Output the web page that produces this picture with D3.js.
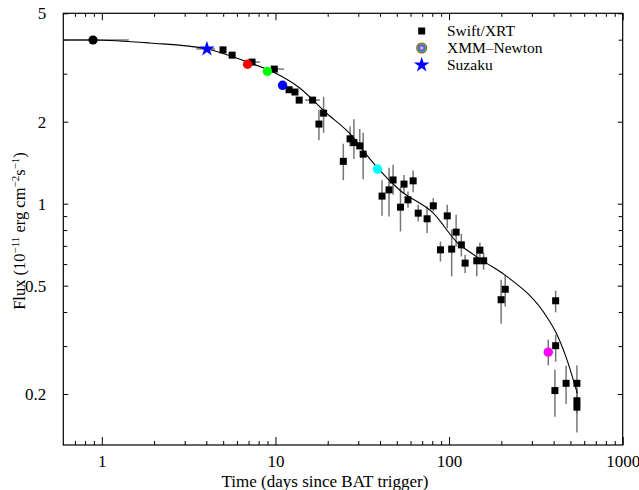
<!DOCTYPE html>
<html>
<head>
<meta charset="utf-8">
<script src="https://cdn.jsdelivr.net/npm/d3@7/dist/d3.min.js"></script>
<style>
  html, body { margin: 0; padding: 0; background: #fff; }
  svg { display: block; }
  text { font-family: "Liberation Serif", "Times New Roman", serif; }
</style>
</head>
<body>
<svg id="chart" width="639" height="490"></svg>
<script>
// ---------------- data ----------------
// Swift/XRT: time (days), flux, lower, upper
const swiftT  = [4.99, 5.63, 7.33, 9.85, 11.98, 12.96, 13.7, 16.37, 18.94, 17.8, 26.9, 28.3, 30.6, 32.0, 24.6,
                 41.1, 45.1, 47.6, 52.5, 55.0, 58.0, 62.1, 66.4, 74.7, 81.1, 97.6, 89.2, 103.5, 109.8, 117.7, 123.7,
                 144.4, 150.5, 158.2, 199.4, 210.6, 411, 411, 407, 472, 545, 545, 545];
const swiftF  = [3.67, 3.51, 3.31, 3.12, 2.62, 2.57, 2.40, 2.40, 2.15, 1.96, 1.73, 1.676, 1.63, 1.52, 1.43,
                 1.066, 1.124, 1.222, 0.971, 1.18, 1.033, 1.213, 0.923, 0.880, 0.982, 0.902, 0.677, 0.681, 0.786, 0.706, 0.605,
                 0.617, 0.675, 0.617, 0.444, 0.485, 0.44, 0.301, 0.206, 0.219, 0.219, 0.189, 0.179];
const swiftLo = [3.67, 3.51, 3.31, 3.12, 2.62, 2.57, 2.40, 2.40, 1.82, 1.71, 1.62, 1.46, 1.58, 1.23, 1.22,
                 0.902, 0.897, 1.078, 0.790, 1.093, 0.966, 1.102, 0.860, 0.780, 0.936, 0.813, 0.613, 0.541, 0.696, 0.640, 0.556,
                 0.541, 0.637, 0.572, 0.362, 0.419, 0.399, 0.263, 0.165, 0.184, 0.170, 0.170, 0.1445];
const swiftHi = [3.67, 3.51, 3.31, 3.12, 2.62, 2.57, 2.40, 2.40, 2.47, 2.21, 1.92, 2.04, 1.88, 1.82, 1.66,
                 1.22, 1.354, 1.389, 1.15, 1.275, 1.108, 1.323, 0.990, 0.976, 1.048, 0.99, 0.726, 0.802, 0.910, 0.775, 0.649,
                 0.688, 0.72, 0.660, 0.526, 0.548, 0.48, 0.330, 0.246, 0.254, 0.255, 0.204, 0.204];
// horizontal error bars on a few Swift points
const swiftXerrT  = [7.33, 9.85, 16.37];
const swiftXerrF  = [3.31, 3.12, 2.40];
const swiftXerrLo = [7.1, 9.0, 14.8];
const swiftXerrHi = [8.13, 11.2, 18.0];

// XMM-Newton
const xmmT  = [6.91, 8.99, 10.99, 38.7, 372.6];
const xmmF  = [3.25, 3.06, 2.72, 1.34, 0.285];
const xmmLo = [3.25, 3.06, 2.72, 1.34, 0.255];
const xmmHi = [3.25, 3.06, 2.72, 1.34, 0.317];
const xmmColors = ["#ff0000", "#00ff00", "#0000ff", "#00ffff", "#ff00ff"];

// Suzaku
const suzakuT = [4.03], suzakuF = [3.70], suzakuTLo = [3.5], suzakuTHi = [4.48];

// early point (black circle)
const earlyT = [0.89], earlyF = [3.99], earlyTLo = [0.6], earlyTHi = [1.43];

// model curve
const modelT = [0.6, 0.887, 1.89, 4.03, 6.84, 10.18, 13.8, 19.2, 27.9, 33.5, 38.8, 52.1, 81.1, 115, 126, 164, 209, 372, 414, 474, 547];
const modelF = [3.99, 3.99, 3.89, 3.70, 3.32, 3.0, 2.66, 2.18, 1.76, 1.51, 1.35, 1.12, 0.923, 0.706, 0.677, 0.605, 0.548, 0.377, 0.335, 0.271, 0.2017];

// axes
const xMajor = [1, 10, 100, 1000];
const xMinor = [0.7, 0.8, 0.9, 2, 3, 4, 5, 6, 7, 8, 9, 20, 30, 40, 50, 60, 70, 80, 90, 200, 300, 400, 500, 600, 700, 800, 900];
const yMajor = [0.2, 0.5, 1, 2, 5];
const yMinor = [0.3, 0.4, 0.6, 0.7, 0.8, 0.9, 3, 4];

const legendLabels = ["Swift/XRT", "XMM\u2013Newton", "Suzaku"];

// ---------------- drawing ----------------
const FONT = "Liberation Serif, Times New Roman, serif";
const svg = d3.select("#chart");
const L = 63.3, R = 622.7, T = 13.3, B = 445;
const x = d3.scaleLog().domain([0.6, 1000]).range([L, R]);
const y = d3.scaleLog().domain([0.13, 5]).range([B, T]);
const fmt = d => String(d);

function axisStyle(g) {
  g.attr("font-family", FONT);
  g.select(".domain").remove();
  g.selectAll("line").attr("stroke", "#000").attr("stroke-width", 1);
  g.selectAll("text").attr("font-size", 17).attr("fill", "#000").attr("font-family", FONT);
}

// bottom
svg.append("g").attr("transform", `translate(0,${B})`)
  .call(d3.axisBottom(x).tickValues(xMajor).tickFormat(fmt).tickSize(-8).tickPadding(10)).call(axisStyle);
svg.append("g").attr("transform", `translate(0,${B})`)
  .call(d3.axisBottom(x).tickValues(xMinor).tickFormat("").tickSize(-4)).call(axisStyle);
// top
svg.append("g").attr("transform", `translate(0,${T})`)
  .call(d3.axisTop(x).tickValues(xMajor).tickFormat("").tickSize(-7)).call(axisStyle);
svg.append("g").attr("transform", `translate(0,${T})`)
  .call(d3.axisTop(x).tickValues(xMinor).tickFormat("").tickSize(-3.5)).call(axisStyle);
// left
svg.append("g").attr("transform", `translate(${L},0)`)
  .call(d3.axisLeft(y).tickValues(yMajor).tickFormat(fmt).tickSize(-5).tickPadding(17)).call(axisStyle);
svg.append("g").attr("transform", `translate(${L},0)`)
  .call(d3.axisLeft(y).tickValues(yMinor).tickFormat("").tickSize(-4)).call(axisStyle);
// right
svg.append("g").attr("transform", `translate(${R},0)`)
  .call(d3.axisRight(y).tickValues(yMajor).tickFormat("").tickSize(-5)).call(axisStyle);
svg.append("g").attr("transform", `translate(${R},0)`)
  .call(d3.axisRight(y).tickValues(yMinor).tickFormat("").tickSize(-4)).call(axisStyle);

// frame
svg.append("rect").attr("x", L).attr("y", T).attr("width", R - L).attr("height", B - T)
  .attr("fill", "none").attr("stroke", "#000").attr("stroke-width", 1.2);

// titles
svg.append("text").attr("x", 325).attr("y", 487).attr("text-anchor", "middle")
  .attr("font-family", FONT).attr("font-size", 17).text("Time (days since BAT trigger)");
const yt = svg.append("text").attr("transform", "translate(25,231) rotate(-90)")
  .attr("text-anchor", "middle").attr("font-family", FONT).attr("font-size", 16.5);
yt.append("tspan").text("Flux (10");
yt.append("tspan").attr("font-size", 11).attr("dy", -6).text("\u221211");
yt.append("tspan").attr("dy", 6).text(" erg cm");
yt.append("tspan").attr("font-size", 11).attr("dy", -6).text("\u22122");
yt.append("tspan").attr("dy", 6).text("s");
yt.append("tspan").attr("font-size", 11).attr("dy", -6).text("\u22121");
yt.append("tspan").attr("dy", 6).text(")");

const plot = svg.append("g");
const errColor = "#777";

// Swift vertical error bars
plot.selectAll(".sv").data(swiftT.map((t, i) => i)).enter().append("line")
  .attr("x1", i => x(swiftT[i])).attr("x2", i => x(swiftT[i]))
  .attr("y1", i => y(swiftLo[i])).attr("y2", i => y(swiftHi[i]))
  .attr("stroke", errColor).attr("stroke-width", 1.5);
// Swift horizontal error bars
plot.selectAll(".sh").data(swiftXerrT.map((t, i) => i)).enter().append("line")
  .attr("x1", i => x(swiftXerrLo[i])).attr("x2", i => x(swiftXerrHi[i]))
  .attr("y1", i => y(swiftXerrF[i])).attr("y2", i => y(swiftXerrF[i]))
  .attr("stroke", errColor).attr("stroke-width", 1.5);
// XMM error bars
plot.selectAll(".xv").data(xmmT.map((t, i) => i)).enter().append("line")
  .attr("x1", i => x(xmmT[i])).attr("x2", i => x(xmmT[i]))
  .attr("y1", i => y(xmmLo[i])).attr("y2", i => y(xmmHi[i]))
  .attr("stroke", errColor).attr("stroke-width", 1.5);
// Suzaku + early horizontal bars
plot.selectAll(".zh").data(suzakuT.map((t, i) => i)).enter().append("line")
  .attr("x1", i => x(suzakuTLo[i])).attr("x2", i => x(suzakuTHi[i]))
  .attr("y1", i => y(suzakuF[i])).attr("y2", i => y(suzakuF[i]))
  .attr("stroke", errColor).attr("stroke-width", 1.5);
plot.selectAll(".eh").data(earlyT.map((t, i) => i)).enter().append("line")
  .attr("x1", i => x(earlyTLo[i])).attr("x2", i => x(earlyTHi[i]))
  .attr("y1", i => y(earlyF[i])).attr("y2", i => y(earlyF[i]))
  .attr("stroke", errColor).attr("stroke-width", 1.5);

// model line
const line = d3.line().x(d => x(d[0])).y(d => y(d[1])).curve(d3.curveMonotoneX);
plot.append("path").datum(modelT.map((t, i) => [t, modelF[i]]))
  .attr("d", line).attr("fill", "none").attr("stroke", "#000").attr("stroke-width", 1.1);

// Swift squares
const sq = 7;
plot.selectAll(".sq").data(swiftT.map((t, i) => i)).enter().append("rect")
  .attr("x", i => x(swiftT[i]) - sq / 2).attr("y", i => y(swiftF[i]) - sq / 2)
  .attr("width", sq).attr("height", sq).attr("fill", "#000");

// early black circle
plot.selectAll(".ec").data(earlyT.map((t, i) => i)).enter().append("circle")
  .attr("cx", i => x(earlyT[i])).attr("cy", i => y(earlyF[i])).attr("r", 4.6).attr("fill", "#000");

// XMM circles
plot.selectAll(".xc").data(xmmT.map((t, i) => i)).enter().append("circle")
  .attr("cx", i => x(xmmT[i])).attr("cy", i => y(xmmF[i])).attr("r", 4.7).attr("fill", i => xmmColors[i]);

// Suzaku star
const star = d3.symbol().type(d3.symbolStar).size(75);
plot.selectAll(".st").data(suzakuT.map((t, i) => i)).enter().append("path")
  .attr("d", star).attr("transform", i => `translate(${x(suzakuT[i])},${y(suzakuF[i])})`)
  .attr("fill", "#0000ff");

// legend
const lg = svg.append("g");
const lgX = 421.7, lgTX = 447, lgY = [31, 48, 65];
lg.append("rect").attr("x", lgX - 3.5).attr("y", lgY[0] - 3.5).attr("width", 7).attr("height", 7).attr("fill", "#000");
const rings = [[5.5, "#a0522d"], [4.5, "#33cc33"], [3.4, "#3366ff"], [2.4, "#ff33ff"], [1.2, "#66ffff"]];
rings.forEach(r => lg.append("circle").attr("cx", lgX).attr("cy", lgY[1]).attr("r", r[0]).attr("fill", r[1]));
lg.append("path").attr("d", star).attr("transform", `translate(${lgX},${lgY[2]})`).attr("fill", "#0000ff");
legendLabels.forEach((s, i) => lg.append("text").attr("x", lgTX).attr("y", lgY[i] + 5)
  .attr("font-family", FONT).attr("font-size", 15.5).text(s));
</script>
</body>
</html>
